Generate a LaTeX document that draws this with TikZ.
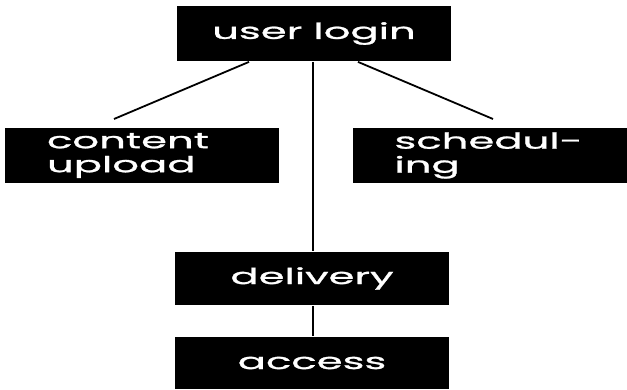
\documentclass[tikz,border=0pt]{standalone}
\usepackage{fontspec}
\newfontfamily\boxfont{Poppins}[FakeStretch=1.9, FakeBold=1.2]
\usetikzlibrary{positioning}

\begin{document}
\begin{tikzpicture}[x=1pt, y=-1pt, line width=1.8pt,
  every box/.style={fill=black, text=white, minimum width=274pt, minimum height=55pt,
    inner sep=0pt, align=center, font=\boxfont\fontsize{22}{24}\selectfont},
  two line/.style={text width=190pt, align=left}]

\useasboundingbox (0,0) rectangle (627,390);

\node [every box/.try] (login) at (314,33.5) {user login};
\node [every box/.try, two line] (upload) at (142,155.5) {content\\upload};
\node [every box/.try, two line] (sched) at (489.5,155.5) {schedul-\\ing};
\node [every box/.try, minimum height=53pt] (delivery) at (312,278.5) {delivery};
\node [every box/.try, minimum height=52pt] (access) at (312,363) {access};

\coordinate (upload-end) at (114,119);
\coordinate (sched-end) at (493,119);

\draw ([xshift=-65pt]login.south) -- (upload-end);
\draw ([xshift=44pt]login.south) -- (sched-end);
\draw ([xshift=-1pt]login.south) -- ([xshift=1pt]delivery.north);
\draw ([xshift=1pt]delivery.south) -- ([xshift=1pt]access.north);

\end{tikzpicture}
\end{document}
